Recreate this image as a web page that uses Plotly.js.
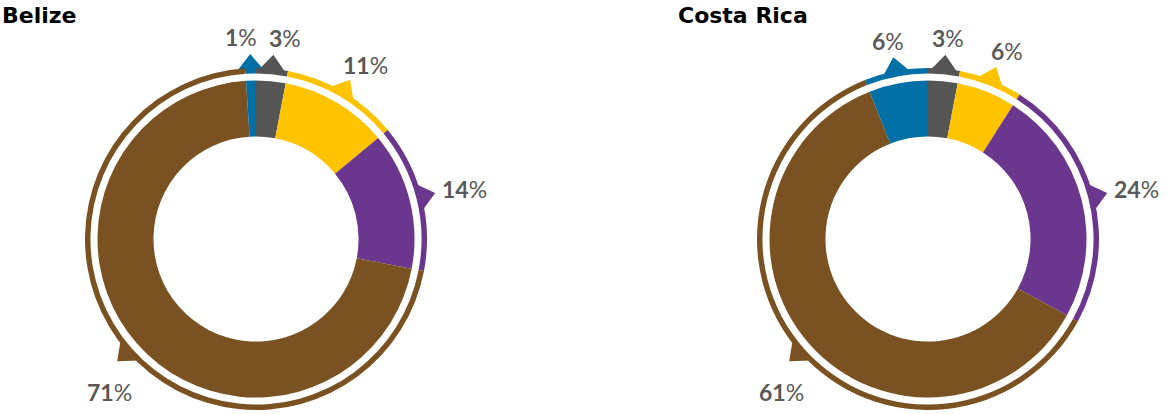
<!DOCTYPE html>
<html>
<head>
<meta charset="utf-8">
<script src="https://cdn.plot.ly/plotly-3.0.1.min.js"></script>
<style>
  html, body { margin: 0; padding: 0; background: #ffffff; }
  #chart { width: 1168px; height: 414px; }
</style>
</head>
<body>
<div id="chart"></div>
<script>
// ---- Data (slice order clockwise from 12 o'clock) ----
const categories = ['Grey', 'Yellow', 'Purple', 'Brown', 'Blue'];
const belizeValues = [3, 11, 14, 71, 1];
const costaRicaValues = [3, 6, 24, 61, 6];
const countryNames = ['Belize', 'Costa Rica'];

// ---- Style ----
const sliceColors = ['#555555', '#FFC300', '#6B368E', '#7A5221', '#0070A6'];
const W = 1168, H = 414;
const geom = [
  { cx: 256, cy: 239, titleX: 0 },
  { cx: 928, cy: 239, titleX: 676 }
];
const R_INNER = 158.5, HOLE = 0.647;
const R_RING = 171, RING_HOLE = 0.968;
const BASE_R = 168, TIP_R = 185, HALF_BASE = 14;

const traces = [];
const annotations = [];

function domainFor(cx, cy, r) {
  return {
    x: [(cx - r) / W, (cx + r) / W],
    y: [1 - (cy + r) / H, 1 - (cy - r) / H]
  };
}

[belizeValues, costaRicaValues].forEach((vals, k) => {
  const g = geom[k];
  traces.push({
    type: 'pie', values: vals, labels: categories, sort: false,
    direction: 'clockwise', rotation: 0, hole: HOLE,
    textinfo: 'none', hoverinfo: 'label+percent', showlegend: false,
    marker: { colors: sliceColors, line: { width: 0 } },
    domain: domainFor(g.cx, g.cy, R_INNER)
  });
  traces.push({
    type: 'pie', values: vals, labels: categories, sort: false,
    direction: 'clockwise', rotation: 0, hole: RING_HOLE,
    textinfo: 'none', hoverinfo: 'skip', showlegend: false,
    marker: { colors: sliceColors, line: { width: 0 } },
    domain: domainFor(g.cx, g.cy, R_RING)
  });

  const total = vals.reduce((a, b) => a + b, 0);
  let cum = 0;
  const labels = [];
  vals.forEach((v, i) => {
    const mid = (cum + v / 2) / total * 2 * Math.PI;
    cum += v;
    const ux = Math.sin(mid), uy = -Math.cos(mid);
    const tx = Math.cos(mid), ty = Math.sin(mid);
    const bx = g.cx + BASE_R * ux, by = g.cy + BASE_R * uy;
    const px = g.cx + TIP_R * ux, py = g.cy + TIP_R * uy;
    traces.push({
      type: 'scatter', mode: 'lines', fill: 'toself',
      x: [bx - HALF_BASE * tx, px, bx + HALF_BASE * tx, bx - HALF_BASE * tx],
      y: [by - HALF_BASE * ty, py, by + HALF_BASE * ty, by - HALF_BASE * ty],
      fillcolor: sliceColors[i], line: { width: 0, color: sliceColors[i] },
      hoverinfo: 'skip', showlegend: false, xaxis: 'x', yaxis: 'y'
    });
    const bottom = Math.cos(mid) < 0;
    const rx = bottom ? 195 : 215;
    const ry = bottom ? 232 : 202;
    labels.push({ x: g.cx + rx * ux, y: g.cy + ry * uy, v: v });
  });
  labels.sort((a, b) => a.x - b.x);
  for (let i = 0; i < labels.length; i++) {
    for (let j = i + 1; j < labels.length; j++) {
      const a = labels[i], b = labels[j];
      if (Math.abs(a.y - b.y) < 24 && b.x - a.x < 44) {
        const push = (44 - (b.x - a.x)) / 2;
        a.x -= push; b.x += push;
      }
    }
  }
  labels.forEach(l => {
    annotations.push({
      xref: 'x', yref: 'y', x: l.x, y: l.y,
      text: '<b>' + l.v + '</b>%', showarrow: false,
      xanchor: 'center', yanchor: 'middle',
      font: { family: 'Lato, "Open Sans", sans-serif', size: 23, color: '#595959' }
    });
  });
  annotations.push({
    xref: 'x', yref: 'y', x: g.titleX, y: 15,
    text: '<b>' + countryNames[k] + '</b>', showarrow: false,
    xanchor: 'left', yanchor: 'middle',
    font: { family: '"DejaVu Sans", sans-serif', size: 22, color: '#000000' }
  });
});

const layout = {
  width: W, height: H,
  margin: { l: 0, r: 0, t: 0, b: 0, pad: 0 },
  paper_bgcolor: '#ffffff', plot_bgcolor: 'rgba(0,0,0,0)',
  showlegend: false,
  xaxis: { range: [0, W], visible: false, fixedrange: true },
  yaxis: { range: [H, 0], visible: false, fixedrange: true },
  annotations: annotations
};

Plotly.newPlot('chart', traces, layout, { displayModeBar: false, staticPlot: true });
</script>
</body>
</html>
